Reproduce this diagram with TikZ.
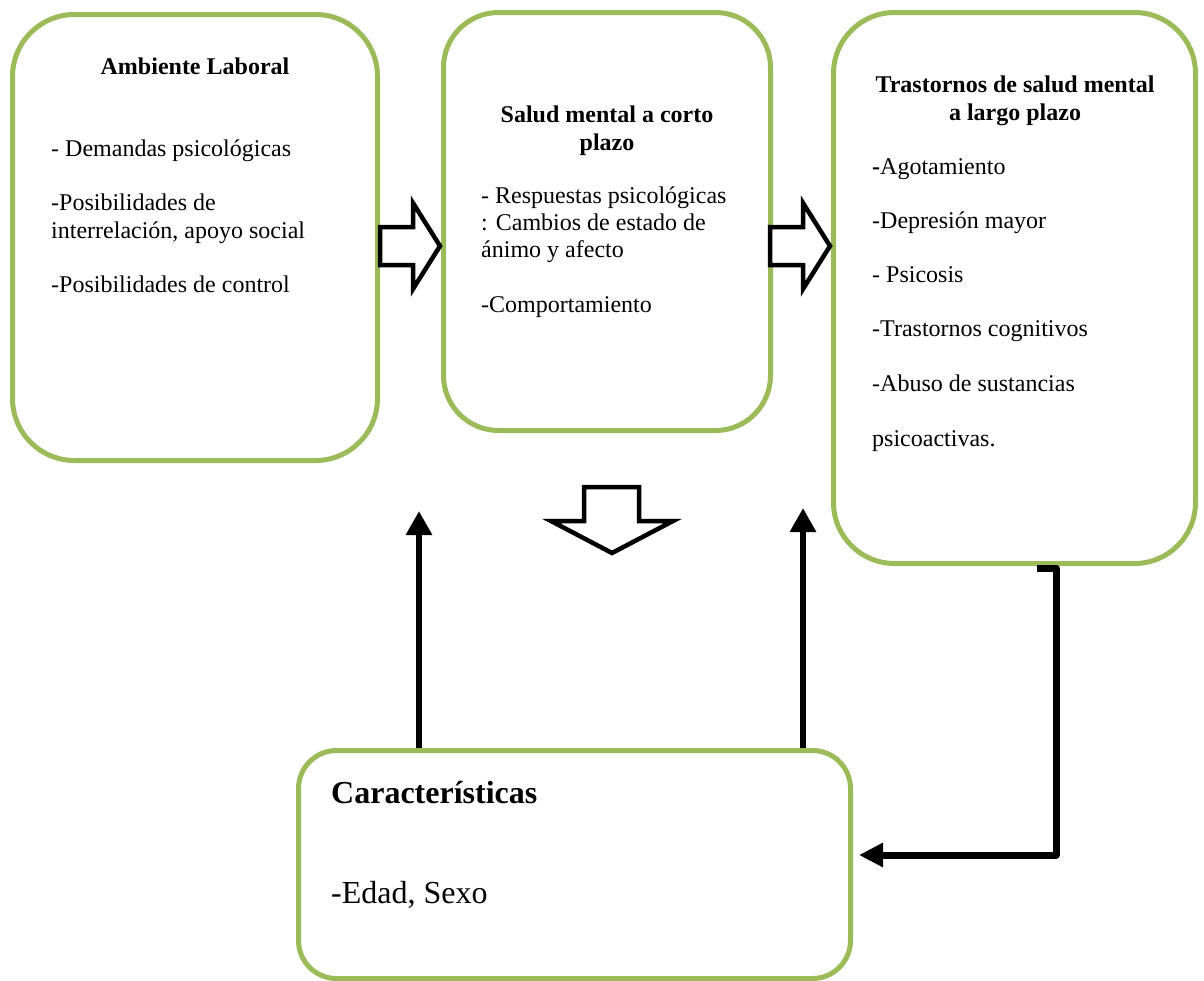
\documentclass[tikz,border=0pt]{standalone}
\usepackage{fontspec}
\setmainfont{Liberation Serif}
\usetikzlibrary{arrows.meta,calc}
\definecolor{boxgreen}{RGB}{155,187,89}
\begin{document}
\begin{tikzpicture}[x=1pt,y=-1pt,
	panel/.style={draw=boxgreen, line width=5pt, rounded corners=#1, inner sep=0pt},
	body/.style={anchor=base west, inner sep=0pt, font=\fontsize{24}{27.5}\selectfont},
	head/.style={anchor=base, inner sep=0pt, font=\fontsize{24}{28}\selectfont\bfseries},
	big/.style={anchor=base west, inner sep=0pt, font=\fontsize{32}{38}\selectfont},
	blockarrow/.style={draw=black, line width=4.5pt, fill=white, line join=miter},
	uparrow/.style={line width=6pt, -{Triangle[length=24pt,width=25pt]}}]
	\useasboundingbox (0,0) rectangle (1204,980);
	\node[panel=62pt, minimum width=365pt, minimum height=446pt] (amb) at (195,237.5) {};
	\node[panel=55pt, minimum width=327pt, minimum height=418pt] (corto) at (607,221.5) {};
	\node[panel=61pt, minimum width=362pt, minimum height=551pt] (largo) at (1014.5,288) {};
	\node[panel=38pt, minimum width=552pt, minimum height=228pt] (caract) at (574.5,864.5) {};
	\node[head] (ambT) at (195,74) {Ambiente Laboral};
	\node[body] (amb1) at (51,156) {- Demandas psicológicas};
	\node[body] (amb2) at (51,210) {-Posibilidades de};
	\node[body] (amb3) at (51,238) {interrelación, apoyo social};
	\node[body] (amb4) at (51,292) {-Posibilidades de control};
	\node[head] (cortoT1) at (607,122) {Salud mental a corto};
	\node[head] (cortoT2) at (607,150) {plazo};
	\node[body] (corto1) at (481,203) {- Respuestas psicológicas};
	\node[body] (corto2) at (481,230) {: Cambios de estado de};
	\node[body] (corto3) at (481,257) {ánimo y afecto};
	\node[body] (corto4) at (481,312) {-Comportamiento};
	\node[head] (largoT1) at (1015,92) {Trastornos de salud mental};
	\node[head] (largoT2) at (1015,120) {a largo plazo};
	\node[body] (largo1) at (872,174) {\textbf{-}Agotamiento};
	\node[body] (largo2) at (872,228) {-Depresión mayor};
	\node[body] (largo3) at (872,282) {- Psicosis};
	\node[body] (largo4) at (872,336) {-Trastornos cognitivos};
	\node[body] (largo5) at (872,391) {-Abuso de sustancias};
	\node[body] (largo6) at (872,446) {psicoactivas.};
	\node[big, font=\fontsize{32}{38}\selectfont\bfseries] (caractT) at (331,803) {Características};
	\node[big] (caract1) at (331,903) {-Edad, Sexo};
	\draw[blockarrow] (380,227) -- (413,227) -- (413,203) -- (440,246) -- (413,289) -- (413,265) -- (380,265) -- cycle;
	\draw[blockarrow] (770,227) -- (803,227) -- (803,203) -- (830,246) -- (803,289) -- (803,265) -- (770,265) -- cycle;
	\draw[blockarrow] (584,487) -- (639,487) -- (639,521) -- (673,521) -- (612,553) -- (551,521) -- (584,521) -- cycle;
	\coordinate (upL) at (419,511);
	\coordinate (upR) at (803,508);
	\coordinate (elbowS) at (1037,568);
	\coordinate (elbowE) at (859,855);
	\draw[uparrow] (caract.north -| upL) -- (upL);
	\draw[uparrow] (caract.north -| upR) -- (upR);
	\draw[line width=7pt, line join=round, -{Triangle[length=24pt,width=23pt]}] (elbowS) -- ++(19,0) |- (elbowE);
\end{tikzpicture}
\end{document}
